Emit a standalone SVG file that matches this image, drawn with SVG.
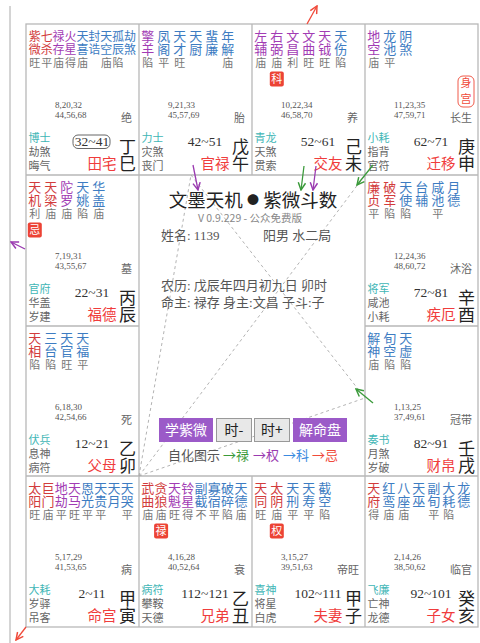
<svg xmlns="http://www.w3.org/2000/svg" width="480" height="643" viewBox="0 0 480 643">
<defs>
<style>
text{font-family:"Noto Sans CJK SC",sans-serif}
.s{font-size:13px;text-anchor:middle}
.sm{font-size:12px}
.r{fill:#d23c3c}.p{fill:#a23cb4}.b{fill:#3d7cc2}
.br{font-size:11px;fill:#777;text-anchor:middle}
.age{font-family:"Liberation Serif",serif;font-size:9px;fill:#555}
.cs{font-size:11px;fill:#666;text-anchor:end}
.g{font-size:11px;fill:#666}
.g1{fill:#3fb6b6}
.rng{font-family:"Liberation Serif",serif;font-size:13.5px;fill:#333;text-anchor:middle}
.pal{font-size:14.5px;fill:#f03c3c;text-anchor:end}
.stem{font-size:17px;fill:#222;text-anchor:middle}
.hua{fill:#ec4335}
.huat{font-size:11px;fill:#fff;text-anchor:middle}
.info{font-family:"Liberation Serif","Noto Sans CJK SC",serif;font-size:13px;fill:#555}
.btn{fill:#9b5ac8}
.btn2{fill:#e8e8e8;stroke:#999;stroke-width:1}
.btt{font-size:14px;fill:#fff;text-anchor:middle}
.btt2{font-size:14px;fill:#222;text-anchor:middle}
.dash{fill:none;stroke:#aaa;stroke-width:0.9;stroke-dasharray:3 3}
</style>
<marker id="mg" viewBox="0 0 10 10" refX="9" refY="5" markerWidth="7" markerHeight="7" orient="auto"><path d="M1,1 L9,5 L1,9" fill="none" stroke="#3a9a3a" stroke-width="1.6"/></marker>
<marker id="mp" viewBox="0 0 10 10" refX="9" refY="5" markerWidth="7" markerHeight="7" orient="auto"><path d="M1,1 L9,5 L1,9" fill="none" stroke="#9a3ab0" stroke-width="1.6"/></marker>
<marker id="mr" viewBox="0 0 10 10" refX="9" refY="5" markerWidth="7" markerHeight="7" orient="auto"><path d="M1,1 L9,5 L1,9" fill="none" stroke="#f04a3a" stroke-width="1.6"/></marker>
</defs>
<rect width="480" height="643" fill="#fff"/>
<line x1="10" y1="6" x2="10" y2="643" stroke="#aaa" stroke-width="1"/>
<g id="grid" fill="none" stroke="#b8b8b8" stroke-width="1.3">
<rect x="26" y="24" width="452" height="603"/>
<path d="M139,24V627M365,24V627M252,24V175M252,476V627M26,175H478M26,476H478M26,326H139M365,326H478"/>
</g>

<g id="si" transform="translate(26,24)">
<text class="s sm r" x="8.8" y="17">紫<tspan x="8.8" y="30">微</tspan></text>
<text class="s sm r" x="20.7" y="17">七<tspan x="20.7" y="30">杀</tspan></text>
<text class="s sm p" x="32.6" y="17">禄<tspan x="32.6" y="30">存</tspan></text>
<text class="s sm p" x="44.5" y="17">火<tspan x="44.5" y="30">星</tspan></text>
<text class="s sm b" x="56.4" y="17">天<tspan x="56.4" y="30">喜</tspan></text>
<text class="s sm b" x="68.3" y="17">封<tspan x="68.3" y="30">诰</tspan></text>
<text class="s sm b" x="80.2" y="17">天<tspan x="80.2" y="30">空</tspan></text>
<text class="s sm b" x="92.1" y="17">孤<tspan x="92.1" y="30">辰</tspan></text>
<text class="s sm b" x="104" y="17">劫<tspan x="104" y="30">煞</tspan></text>
<text class="br" y="43"><tspan x="8.8">旺</tspan><tspan x="20.7">平</tspan><tspan x="32.6">庙</tspan><tspan x="44.5">得</tspan><tspan x="56.4">庙</tspan><tspan x="80.2">庙</tspan><tspan x="92.1">陷</tspan></text>
<text class="age" x="29" y="84">8,20,32<tspan x="29" y="94">44,56,68</tspan></text>
<text class="cs" x="106" y="98">绝</text>
<text class="g" x="2.5" y="118"><tspan class="g1">博士</tspan><tspan x="2.5" y="132">劫煞</tspan><tspan x="2.5" y="145.5">晦气</tspan></text>
<rect x="47" y="111" width="37" height="13.5" rx="5" fill="none" stroke="#666" stroke-width="1"/>
<text class="rng" x="66" y="122">32~41</text>
<text class="pal" x="90.5" y="144.5">田宅</text>
<text class="stem" x="101.5" y="128.5">丁<tspan x="101.5" y="145.5">巳</tspan></text>
</g>

<g id="wu" transform="translate(139,24)">
<text class="s p" x="8.8" y="17">擎<tspan x="8.8" y="30">羊</tspan></text>
<text class="s b" x="24.8" y="17">凤<tspan x="24.8" y="30">阁</tspan></text>
<text class="s b" x="40.8" y="17">天<tspan x="40.8" y="30">才</tspan></text>
<text class="s b" x="56.8" y="17">天<tspan x="56.8" y="30">厨</tspan></text>
<text class="s b" x="72.8" y="17">蜚<tspan x="72.8" y="30">廉</tspan></text>
<text class="s b" x="88.8" y="17">年<tspan x="88.8" y="30">解</tspan></text>
<text class="br" y="43"><tspan x="8.8">陷</tspan><tspan x="24.8">平</tspan><tspan x="40.8">旺</tspan><tspan x="88.8">庙</tspan></text>
<text class="age" x="29" y="84">9,21,33<tspan x="29" y="94">45,57,69</tspan></text>
<text class="cs" x="106" y="98">胎</text>
<text class="g" x="2.5" y="118"><tspan class="g1">力士</tspan><tspan x="2.5" y="132">灾煞</tspan><tspan x="2.5" y="145.5">丧门</tspan></text>
<text class="rng" x="66" y="122">42~51</text>
<text class="pal" x="90.5" y="144.5">官禄</text>
<text class="stem" x="101.5" y="128.5">戊<tspan x="101.5" y="145.5">午</tspan></text>
</g>

<g id="wei" transform="translate(252,24)">
<text class="s p" x="8.8" y="17">左<tspan x="8.8" y="30">辅</tspan></text>
<text class="s p" x="24.8" y="17">右<tspan x="24.8" y="30">弼</tspan></text>
<text class="s p" x="40.8" y="17">文<tspan x="40.8" y="30">昌</tspan></text>
<text class="s p" x="56.8" y="17">文<tspan x="56.8" y="30">曲</tspan></text>
<text class="s p" x="72.8" y="17">天<tspan x="72.8" y="30">钺</tspan></text>
<text class="s b" x="88.8" y="17">天<tspan x="88.8" y="30">伤</tspan></text>
<text class="br" y="43"><tspan x="8.8">庙</tspan><tspan x="24.8">庙</tspan><tspan x="40.8">利</tspan><tspan x="56.8">旺</tspan><tspan x="72.8">旺</tspan><tspan x="88.8">陷</tspan></text>
<rect class="hua" x="17.8" y="47.5" width="14" height="15" rx="2"/><text class="huat" x="24.8" y="59">科</text>
<text class="age" x="29" y="84">10,22,34<tspan x="29" y="94">46,58,70</tspan></text>
<text class="cs" x="106" y="98">养</text>
<text class="g" x="2.5" y="118"><tspan class="g1">青龙</tspan><tspan x="2.5" y="132">天煞</tspan><tspan x="2.5" y="145.5">贯索</tspan></text>
<text class="rng" x="66" y="122">52~61</text>
<text class="pal" x="90.5" y="144.5">交友</text>
<text class="stem" x="101.5" y="128.5">己<tspan x="101.5" y="145.5">未</tspan></text>
</g>

<g id="shen" transform="translate(365,24)">
<text class="s p" x="8.8" y="17">地<tspan x="8.8" y="30">空</tspan></text>
<text class="s b" x="24.8" y="17">龙<tspan x="24.8" y="30">池</tspan></text>
<text class="s b" x="40.8" y="17">阴<tspan x="40.8" y="30">煞</tspan></text>
<text class="br" y="43"><tspan x="8.8">庙</tspan><tspan x="24.8">平</tspan></text>
<rect x="93" y="52" width="16" height="31" rx="5" fill="#fff" stroke="#f05a4a" stroke-width="1"/>
<text x="101" y="63" font-size="11" fill="#f04a3a" text-anchor="middle">身<tspan x="101" y="79">宫</tspan></text>
<text class="age" x="29" y="84">11,23,35<tspan x="29" y="94">47,59,71</tspan></text>
<text class="cs" x="107" y="98">长生</text>
<text class="g" x="2.5" y="118"><tspan class="g1">小耗</tspan><tspan x="2.5" y="132">指背</tspan><tspan x="2.5" y="145.5">官符</tspan></text>
<text class="rng" x="66" y="122">62~71</text>
<text class="pal" x="90.5" y="144.5">迁移</text>
<text class="stem" x="101.5" y="128.5">庚<tspan x="101.5" y="145.5">申</tspan></text>
</g>

<g id="chen" transform="translate(26,175)">
<text class="s r" x="8.8" y="17">天<tspan x="8.8" y="30">机</tspan></text>
<text class="s r" x="24.8" y="17">天<tspan x="24.8" y="30">梁</tspan></text>
<text class="s p" x="40.8" y="17">陀<tspan x="40.8" y="30">罗</tspan></text>
<text class="s b" x="56.8" y="17">天<tspan x="56.8" y="30">姚</tspan></text>
<text class="s b" x="72.8" y="17">华<tspan x="72.8" y="30">盖</tspan></text>
<text class="br" y="43"><tspan x="8.8">利</tspan><tspan x="24.8">庙</tspan><tspan x="40.8">庙</tspan><tspan x="56.8">陷</tspan><tspan x="72.8">庙</tspan></text>
<rect class="hua" x="1.8" y="47.5" width="14" height="15" rx="2"/><text class="huat" x="8.8" y="59">忌</text>
<text class="age" x="29" y="84">7,19,31<tspan x="29" y="94">43,55,67</tspan></text>
<text class="cs" x="106" y="98">墓</text>
<text class="g" x="2.5" y="118"><tspan class="g1">官府</tspan><tspan x="2.5" y="132">华盖</tspan><tspan x="2.5" y="145.5">岁建</tspan></text>
<text class="rng" x="66" y="122">22~31</text>
<text class="pal" x="90.5" y="144.5">福德</text>
<text class="stem" x="101.5" y="128.5">丙<tspan x="101.5" y="145.5">辰</tspan></text>
</g>

<g id="you" transform="translate(365,175)">
<text class="s r" x="8.8" y="17">廉<tspan x="8.8" y="30">贞</tspan></text>
<text class="s r" x="24.8" y="17">破<tspan x="24.8" y="30">军</tspan></text>
<text class="s b" x="40.8" y="17">天<tspan x="40.8" y="30">使</tspan></text>
<text class="s b" x="56.8" y="17">台<tspan x="56.8" y="30">辅</tspan></text>
<text class="s b" x="72.8" y="17">咸<tspan x="72.8" y="30">池</tspan></text>
<text class="s b" x="88.8" y="17">月<tspan x="88.8" y="30">德</tspan></text>
<text class="br" y="43"><tspan x="8.8">平</tspan><tspan x="24.8">陷</tspan><tspan x="40.8">陷</tspan><tspan x="72.8">平</tspan></text>
<text class="age" x="29" y="84">12,24,36<tspan x="29" y="94">48,60,72</tspan></text>
<text class="cs" x="107" y="98">沐浴</text>
<text class="g" x="2.5" y="118"><tspan class="g1">将军</tspan><tspan x="2.5" y="132">咸池</tspan><tspan x="2.5" y="145.5">小耗</tspan></text>
<text class="rng" x="66" y="122">72~81</text>
<text class="pal" x="90.5" y="144.5">疾厄</text>
<text class="stem" x="101.5" y="128.5">辛<tspan x="101.5" y="145.5">酉</tspan></text>
</g>

<g id="mao" transform="translate(26,326)">
<text class="s r" x="8.8" y="17">天<tspan x="8.8" y="30">相</tspan></text>
<text class="s b" x="24.8" y="17">三<tspan x="24.8" y="30">台</tspan></text>
<text class="s b" x="40.8" y="17">天<tspan x="40.8" y="30">官</tspan></text>
<text class="s b" x="56.8" y="17">天<tspan x="56.8" y="30">福</tspan></text>
<text class="br" y="43"><tspan x="8.8">陷</tspan><tspan x="24.8">陷</tspan><tspan x="40.8">旺</tspan><tspan x="56.8">平</tspan></text>
<text class="age" x="29" y="84">6,18,30<tspan x="29" y="94">42,54,66</tspan></text>
<text class="cs" x="106" y="98">死</text>
<text class="g" x="2.5" y="118"><tspan class="g1">伏兵</tspan><tspan x="2.5" y="132">息神</tspan><tspan x="2.5" y="145.5">病符</tspan></text>
<text class="rng" x="66" y="122">12~21</text>
<text class="pal" x="90.5" y="144.5">父母</text>
<text class="stem" x="101.5" y="128.5">乙<tspan x="101.5" y="145.5">卯</tspan></text>
</g>

<g id="xu" transform="translate(365,326)">
<text class="s b" x="8.8" y="17">解<tspan x="8.8" y="30">神</tspan></text>
<text class="s b" x="24.8" y="17">旬<tspan x="24.8" y="30">空</tspan></text>
<text class="s b" x="40.8" y="17">天<tspan x="40.8" y="30">虚</tspan></text>
<text class="br" y="43"><tspan x="8.8">庙</tspan><tspan x="24.8">陷</tspan><tspan x="40.8">陷</tspan></text>
<text class="age" x="29" y="84">1,13,25<tspan x="29" y="94">37,49,61</tspan></text>
<text class="cs" x="107" y="98">冠带</text>
<text class="g" x="2.5" y="118"><tspan class="g1">奏书</tspan><tspan x="2.5" y="132">月煞</tspan><tspan x="2.5" y="145.5">岁破</tspan></text>
<text class="rng" x="66" y="122">82~91</text>
<text class="pal" x="90.5" y="144.5">财帛</text>
<text class="stem" x="101.5" y="128.5">壬<tspan x="101.5" y="145.5">戌</tspan></text>
</g>

<g id="yin" transform="translate(26,476)">
<text class="s r" x="8.8" y="17">太<tspan x="8.8" y="30">阳</tspan></text>
<text class="s r" x="22" y="17">巨<tspan x="22" y="30">门</tspan></text>
<text class="s p" x="35.2" y="17">地<tspan x="35.2" y="30">劫</tspan></text>
<text class="s p" x="48.4" y="17">天<tspan x="48.4" y="30">马</tspan></text>
<text class="s b" x="61.6" y="17">恩<tspan x="61.6" y="30">光</tspan></text>
<text class="s b" x="74.8" y="17">天<tspan x="74.8" y="30">贵</tspan></text>
<text class="s b" x="88" y="17">天<tspan x="88" y="30">月</tspan></text>
<text class="s b" x="101.2" y="17">天<tspan x="101.2" y="30">哭</tspan></text>
<text class="br" y="43"><tspan x="8.8">旺</tspan><tspan x="22">庙</tspan><tspan x="35.2">平</tspan><tspan x="48.4">旺</tspan><tspan x="61.6">平</tspan><tspan x="74.8">平</tspan><tspan x="101.2">平</tspan></text>
<text class="age" x="29" y="84">5,17,29<tspan x="29" y="94">41,53,65</tspan></text>
<text class="cs" x="106" y="98">病</text>
<text class="g" x="2.5" y="118"><tspan class="g1">大耗</tspan><tspan x="2.5" y="132">岁驿</tspan><tspan x="2.5" y="145.5">吊客</tspan></text>
<text class="rng" x="66" y="122">2~11</text>
<text class="pal" x="90.5" y="144.5">命宫</text>
<text class="stem" x="101.5" y="128.5">甲<tspan x="101.5" y="145.5">寅</tspan></text>
</g>

<g id="chou" transform="translate(139,476)">
<text class="s r" x="8.8" y="17">武<tspan x="8.8" y="30">曲</tspan></text>
<text class="s r" x="22.1" y="17">贪<tspan x="22.1" y="30">狼</tspan></text>
<text class="s p" x="35.4" y="17">天<tspan x="35.4" y="30">魁</tspan></text>
<text class="s p" x="48.7" y="17">铃<tspan x="48.7" y="30">星</tspan></text>
<text class="s b" x="62" y="17">副<tspan x="62" y="30">截</tspan></text>
<text class="s b" x="75.3" y="17">寡<tspan x="75.3" y="30">宿</tspan></text>
<text class="s b" x="88.6" y="17">破<tspan x="88.6" y="30">碎</tspan></text>
<text class="s b" x="101.9" y="17">天<tspan x="101.9" y="30">德</tspan></text>
<text class="br" y="43"><tspan x="8.8">庙</tspan><tspan x="22.1">庙</tspan><tspan x="35.4">旺</tspan><tspan x="48.7">得</tspan><tspan x="62">不</tspan><tspan x="75.3">平</tspan><tspan x="88.6">陷</tspan><tspan x="101.9">庙</tspan></text>
<rect class="hua" x="15.1" y="47.5" width="14" height="15" rx="2"/><text class="huat" x="22.1" y="59">禄</text>
<text class="age" x="29" y="84">4,16,28<tspan x="29" y="94">40,52,64</tspan></text>
<text class="cs" x="106" y="98">衰</text>
<text class="g" x="2.5" y="118"><tspan class="g1">病符</tspan><tspan x="2.5" y="132">攀鞍</tspan><tspan x="2.5" y="145.5">天德</tspan></text>
<text class="rng" x="66" y="122">112~121</text>
<text class="pal" x="90.5" y="144.5">兄弟</text>
<text class="stem" x="101.5" y="128.5">乙<tspan x="101.5" y="145.5">丑</tspan></text>
</g>

<g id="zi" transform="translate(252,476)">
<text class="s r" x="8.8" y="17">天<tspan x="8.8" y="30">同</tspan></text>
<text class="s r" x="24.8" y="17">太<tspan x="24.8" y="30">阴</tspan></text>
<text class="s b" x="40.8" y="17">天<tspan x="40.8" y="30">刑</tspan></text>
<text class="s b" x="56.8" y="17">天<tspan x="56.8" y="30">寿</tspan></text>
<text class="s b" x="72.8" y="17">截<tspan x="72.8" y="30">空</tspan></text>
<text class="br" y="43"><tspan x="8.8">旺</tspan><tspan x="24.8">庙</tspan><tspan x="40.8">平</tspan><tspan x="56.8">平</tspan><tspan x="72.8">陷</tspan></text>
<rect class="hua" x="17.8" y="47.5" width="14" height="15" rx="2"/><text class="huat" x="24.8" y="59">权</text>
<text class="age" x="29" y="84">3,15,27<tspan x="29" y="94">39,51,63</tspan></text>
<text class="cs" x="107" y="98">帝旺</text>
<text class="g" x="2.5" y="118"><tspan class="g1">喜神</tspan><tspan x="2.5" y="132">将星</tspan><tspan x="2.5" y="145.5">白虎</tspan></text>
<text class="rng" x="66" y="122">102~111</text>
<text class="pal" x="90.5" y="144.5">夫妻</text>
<text class="stem" x="101.5" y="128.5">甲<tspan x="101.5" y="145.5">子</tspan></text>
</g>

<g id="hai" transform="translate(365,476)">
<text class="s r" x="8.8" y="17">天<tspan x="8.8" y="30">府</tspan></text>
<text class="s b" x="23.8" y="17">红<tspan x="23.8" y="30">鸾</tspan></text>
<text class="s b" x="38.8" y="17">八<tspan x="38.8" y="30">座</tspan></text>
<text class="s b" x="53.8" y="17">天<tspan x="53.8" y="30">巫</tspan></text>
<text class="s b" x="68.8" y="17">副<tspan x="68.8" y="30">旬</tspan></text>
<text class="s b" x="83.8" y="17">大<tspan x="83.8" y="30">耗</tspan></text>
<text class="s b" x="98.8" y="17">龙<tspan x="98.8" y="30">德</tspan></text>
<text class="br" y="43"><tspan x="8.8">得</tspan><tspan x="23.8">庙</tspan><tspan x="38.8">庙</tspan><tspan x="68.8">平</tspan><tspan x="83.8">陷</tspan></text>
<text class="age" x="29" y="84">2,14,26<tspan x="29" y="94">38,50,62</tspan></text>
<text class="cs" x="107" y="98">临官</text>
<text class="g" x="2.5" y="118"><tspan class="g1">飞廉</tspan><tspan x="2.5" y="132">亡神</tspan><tspan x="2.5" y="145.5">龙德</tspan></text>
<text class="rng" x="66" y="122">92~101</text>
<text class="pal" x="90.5" y="144.5">子女</text>
<text class="stem" x="101.5" y="128.5">癸<tspan x="101.5" y="145.5">亥</tspan></text>
</g>

<g id="connectors">
<path class="dash" d="M139,476L191,175M139,476L365,175M139,476L365,398M191,175L365,398"/>
<g fill="none" stroke-width="1.3">
<line x1="193" y1="165" x2="198" y2="190" stroke="#9a3ab0" marker-end="url(#mp)"/>
<line x1="304" y1="166" x2="301" y2="190" stroke="#3a9a3a" marker-end="url(#mg)"/>
<line x1="316" y1="166" x2="313" y2="190" stroke="#9a3ab0" marker-end="url(#mp)"/>
<line x1="373" y1="165" x2="357" y2="185" stroke="#3a9a3a" marker-end="url(#mg)"/>
<line x1="373" y1="403" x2="356" y2="389" stroke="#3a9a3a" marker-end="url(#mg)"/>
<line x1="25" y1="249" x2="11" y2="242" stroke="#9a3ab0" marker-end="url(#mp)"/>
<line x1="307" y1="24" x2="317" y2="6" stroke="#f04a3a" marker-end="url(#mr)"/>
<line x1="26" y1="627" x2="16" y2="640" stroke="#f04a3a" marker-end="url(#mr)"/>
</g>
</g>

<g id="center">
<text x="253" y="206.5" font-size="18.5" fill="#222" text-anchor="middle">文墨天机 <tspan font-size="12" dy="-2">●</tspan><tspan dy="2"> 紫微斗数</tspan></text>
<text x="250" y="222" font-family="Liberation Serif,Noto Sans CJK SC,serif" font-size="10.5" fill="#888" text-anchor="middle">V 0.9.229 - 公众免费版</text>
<text class="info" x="161" y="240">姓名: 1139</text>
<text class="info" x="263" y="240">阳男 水二局</text>
<text class="info" x="161" y="290">农历: 戊辰年四月初九日 卯时<tspan x="161" y="306.5">命主: 禄存 身主:文昌  子斗:子</tspan></text>
<rect class="btn" x="159" y="418" width="54" height="24"/><text class="btt" x="186" y="435">学紫微</text>
<rect class="btn2" x="216.5" y="418.5" width="35" height="23"/><text class="btt2" x="234" y="435">时-</text>
<rect class="btn2" x="254.5" y="418.5" width="35" height="23"/><text class="btt2" x="272" y="435">时+</text>
<rect class="btn" x="293" y="418" width="54" height="24"/><text class="btt" x="320" y="435">解命盘</text>
<text x="168" y="460" font-size="13"><tspan fill="#555">自化图示</tspan><tspan x="223" fill="#3a9a3a">→禄</tspan><tspan x="253" fill="#9a3ab0">→权</tspan><tspan x="283" fill="#3a8ae0">→科</tspan><tspan x="312" fill="#f04a3a">→忌</tspan></text>
</g>
</svg>
